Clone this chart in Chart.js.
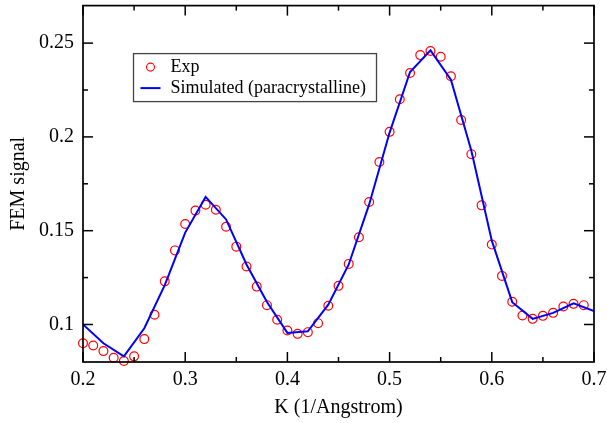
<!DOCTYPE html>
<html>
<head>
<meta charset="utf-8">
<script src="https://cdn.jsdelivr.net/npm/chart.js@4.4.1/dist/chart.umd.min.js"></script>
<style>
  html, body { margin: 0; padding: 0; background: #fff; }
  #wrap { position: relative; width: 607px; height: 423px; }
</style>
</head>
<body>
<div id="wrap"><canvas id="chart"></canvas></div>
<script>
// measured FEM signal (open circles)
const expK = [0.20, 0.21, 0.22, 0.23, 0.24, 0.25, 0.26, 0.27, 0.28, 0.29,
              0.30, 0.31, 0.32, 0.33, 0.34, 0.35, 0.36, 0.37, 0.38, 0.39,
              0.40, 0.41, 0.42, 0.43, 0.44, 0.45, 0.46, 0.47, 0.48, 0.49,
              0.50, 0.51, 0.52, 0.53, 0.54, 0.55, 0.56, 0.57, 0.58, 0.59,
              0.60, 0.61, 0.62, 0.63, 0.64, 0.65, 0.66, 0.67, 0.68, 0.69];
const expSignal = [0.0900, 0.0888, 0.0858, 0.0823, 0.0805, 0.0830, 0.0922, 0.1052, 0.1230, 0.1395,
                   0.1536, 0.1607, 0.1638, 0.1612, 0.1521, 0.1415, 0.1309, 0.1202, 0.1103, 0.1025,
                   0.0968, 0.0950, 0.0959, 0.1007, 0.1100, 0.1206, 0.1323, 0.1465, 0.1653, 0.1866,
                   0.2027, 0.2201, 0.2341, 0.2436, 0.2458, 0.2427, 0.2323, 0.2090, 0.1908, 0.1635,
                   0.1426, 0.1259, 0.1121, 0.1048, 0.1030, 0.1046, 0.1062, 0.1096, 0.1110, 0.1103];

// simulated paracrystalline model (solid line)
const simK = [0.20, 0.22, 0.24, 0.26, 0.28, 0.30, 0.32, 0.34, 0.36, 0.38, 0.40, 0.42, 0.44,
              0.46, 0.48, 0.50, 0.52, 0.54, 0.56, 0.58, 0.60, 0.62, 0.64, 0.66, 0.68, 0.70];
const simSignal = [0.1000, 0.0900, 0.0830, 0.0980, 0.1210, 0.1490, 0.1680, 0.1560, 0.1320, 0.1120,
                   0.0955, 0.0964, 0.1106, 0.1320, 0.1640, 0.2023, 0.2346, 0.2461, 0.2305, 0.1926,
                   0.1447, 0.1119, 0.1030, 0.1062, 0.1113, 0.1071];

const xTicks = [0.2, 0.3, 0.4, 0.5, 0.6, 0.7];
const xMinorTicks = [0.25, 0.35, 0.45, 0.55, 0.65];
const yTicks = [0.1, 0.15, 0.2, 0.25];
const yMinorTicks = [0.125, 0.175, 0.225];

const SERIF = '"Liberation Serif", "Times New Roman", serif';
Chart.defaults.font.family = SERIF;
Chart.defaults.color = '#000';

const toXY = (xs, ys) => xs.map((x, i) => ({ x, y: ys[i] }));

// frame + inward tick marks on all four sides
const framePlugin = {
  id: 'frame',
  afterDatasetsDraw(chart) {
    const { ctx, chartArea: a, scales: { x, y } } = chart;
    ctx.save();
    ctx.strokeStyle = '#000';
    ctx.lineWidth = 1.5;
    const tick = (x1, y1, x2, y2) => { ctx.beginPath(); ctx.moveTo(x1, y1); ctx.lineTo(x2, y2); ctx.stroke(); };
    xTicks.forEach(v => { const p = x.getPixelForValue(v); tick(p, a.bottom, p, a.bottom - 10); tick(p, a.top, p, a.top + 10); });
    xMinorTicks.forEach(v => { const p = x.getPixelForValue(v); tick(p, a.bottom, p, a.bottom - 5); tick(p, a.top, p, a.top + 5); });
    yTicks.forEach(v => { const p = y.getPixelForValue(v); tick(a.left, p, a.left + 10, p); tick(a.right, p, a.right - 10, p); });
    yMinorTicks.forEach(v => { const p = y.getPixelForValue(v); tick(a.left, p, a.left + 5, p); tick(a.right, p, a.right - 5, p); });
    ctx.lineWidth = 1.7;
    ctx.strokeRect(a.left, a.top, a.right - a.left, a.bottom - a.top);
    ctx.restore();
  }
};

// boxed legend sitting inside the plot, upper left
const boxLegend = {
  id: 'boxLegend',
  afterDraw(chart) {
    const { ctx, chartArea: a } = chart;
    const [sim, exp] = chart.data.datasets;
    const bx = a.left + 50.5, by = a.top + 48, bw = 243, bh = 48;
    ctx.save();
    ctx.fillStyle = '#fff';
    ctx.fillRect(bx, by, bw, bh);
    ctx.strokeStyle = '#444';
    ctx.lineWidth = 1.3;
    ctx.strokeRect(bx, by, bw, bh);
    ctx.font = '18px ' + SERIF;
    ctx.fillStyle = '#000';
    ctx.textBaseline = 'middle';
    // Exp entry
    ctx.beginPath();
    ctx.arc(bx + 17, by + 13.5, 4, 0, Math.PI * 2);
    ctx.strokeStyle = exp.pointBorderColor;
    ctx.lineWidth = 1.1;
    ctx.stroke();
    ctx.fillText(exp.label, bx + 37, by + 14);
    // Simulated entry
    ctx.beginPath();
    ctx.moveTo(bx + 7, by + 34.5);
    ctx.lineTo(bx + 27, by + 34.5);
    ctx.strokeStyle = sim.borderColor;
    ctx.lineWidth = 2;
    ctx.stroke();
    ctx.fillText(sim.label, bx + 37, by + 35);
    ctx.restore();
  }
};

new Chart(document.getElementById('chart'), {
  type: 'scatter',
  data: {
    datasets: [
      {
        label: 'Simulated (paracrystalline)',
        data: toXY(simK, simSignal),
        showLine: true,
        borderColor: '#0000ff',
        borderWidth: 2,
        pointRadius: 0,
        tension: 0,
        order: 0,
      },
      {
        label: 'Exp',
        data: toXY(expK, expSignal),
        showLine: false,
        clip: false,
        pointStyle: 'circle',
        pointRadius: 4.4,
        pointBorderWidth: 1.2,
        pointBorderColor: '#ff0000',
        pointBackgroundColor: 'rgba(0,0,0,0)',
        order: 1,
      },
    ],
  },
  options: {
    responsive: true, maintainAspectRatio: false,
    animation: false,
    layout: { padding: { top: 5, right: 13, left: 0, bottom: 0 } },
    plugins: { legend: { display: false }, tooltip: { enabled: false } },
    scales: {
      x: {
        type: 'linear', min: 0.2, max: 0.7,
        grid: { display: false, drawTicks: false },
        border: { display: false },
        afterBuildTicks: s => { s.ticks = xTicks.map(v => ({ value: v })); },
        afterFit: s => { s.height = 61; s.paddingLeft = 0; s.paddingRight = 0; },
        ticks: { padding: 6, font: { size: 20 }, callback: v => String(+v.toFixed(2)) },
        title: { display: true, text: 'K (1/Angstrom)', font: { size: 20 }, padding: { top: 0, bottom: 3 } },
      },
      y: {
        type: 'linear', min: 0.08, max: 0.27,
        grid: { display: false, drawTicks: false },
        border: { display: false },
        afterBuildTicks: s => { s.ticks = yTicks.map(v => ({ value: v })); },
        afterFit: s => { s.width = 83; s.paddingTop = 0; s.paddingBottom = 0; },
        ticks: { padding: 9, font: { size: 20 }, callback: v => String(+v.toFixed(2)) },
        title: { display: true, text: 'FEM signal', font: { size: 20 }, padding: { top: 7, bottom: 0 } },
      },
    },
  },
  plugins: [framePlugin, boxLegend],
});
</script>
</body>
</html>
